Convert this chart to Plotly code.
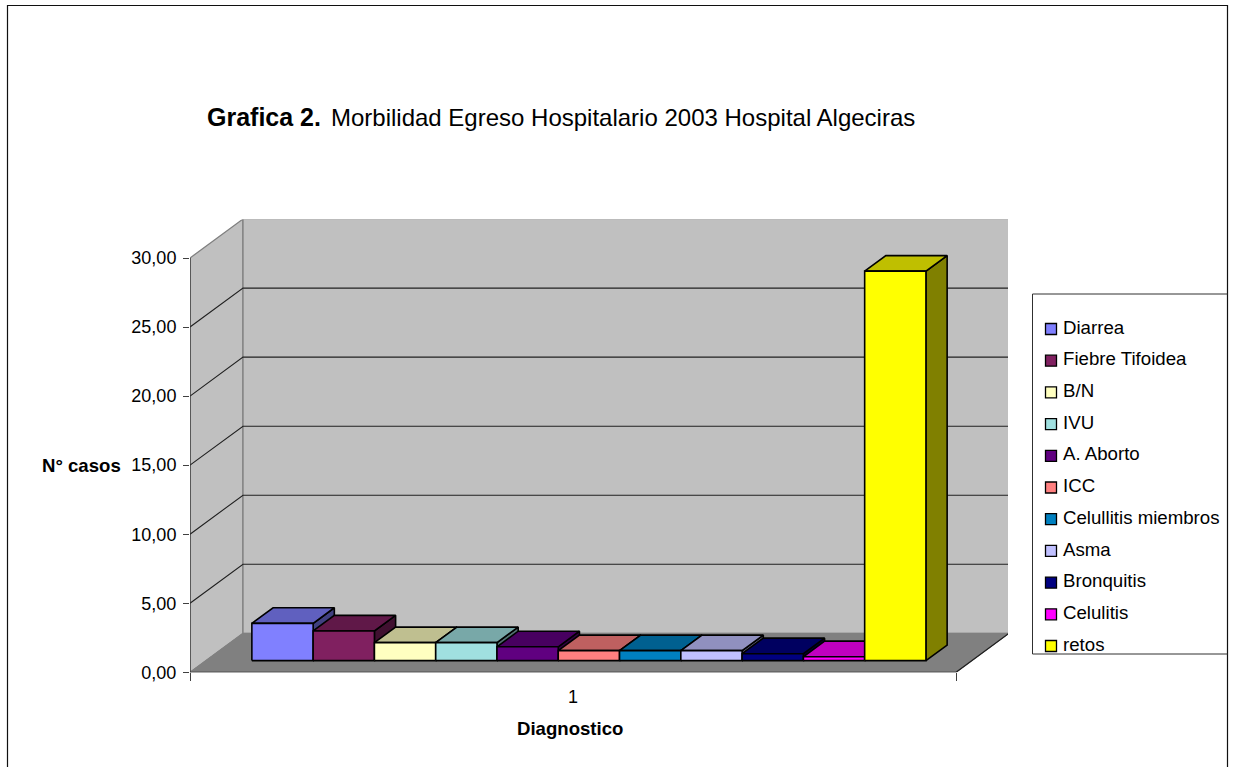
import plotly.graph_objects as go

# Hospital discharge morbidity, 2003
diagnoses = ["Diarrea", "Fiebre Tifoidea", "B/N", "IVU", "A. Aborto", "ICC",
             "Celullitis miembros", "Asma", "Bronquitis", "Celulitis", "retos"]
cases = [2.7, 2.15, 1.3, 1.3, 1.0, 0.72, 0.72, 0.72, 0.5, 0.28, 28.2]
front_colors = ["#8080FF", "#802060", "#FFFFC0", "#A0E0E0", "#600080", "#FF8080",
                "#0080C0", "#C0C0FF", "#000080", "#FF00FF", "#FFFF00"]
value_ticks = [0, 5, 10, 15, 20, 25, 30]

W, H = 1233, 767
FONT = "Liberation Sans, Arial, sans-serif"

# Oblique projection of the 3D box: depth 0 is the front plane, 1 the back wall
DEPTH_X = 53 / 766
DEPTH_Y = 2.82
X_START, X_END = 0.5, 1.5
BAR_WIDTH = 0.08
BAR_START = 0.56
BAR_DEPTH_FRONT, BAR_DEPTH_BACK = 0.30, 0.70


def project(x, v, d=0.0):
    return x + d * DEPTH_X, v + d * DEPTH_Y


def shade(color, f):
    r, g, b = (int(color[i:i + 2], 16) for i in (1, 3, 5))
    return f"rgb({r * f:.0f},{g * f:.0f},{b * f:.0f})"


def poly(points, fill=None, line="black", width=1.0, close=True):
    xs = [p[0] for p in points]
    ys = [p[1] for p in points]
    if close:
        xs.append(xs[0])
        ys.append(ys[0])
    return go.Scatter(x=xs, y=ys, mode="lines", hoverinfo="skip", showlegend=False,
                      cliponaxis=False,
                      fill="toself" if fill else None, fillcolor=fill,
                      line=dict(color=line, width=width))


fig = go.Figure()
top = value_ticks[-1]

# Side wall and back wall
fig.add_trace(poly([project(X_START, 0), project(X_START, top),
                    project(X_START, top, 1), project(X_START, 0, 1)],
                   fill="#C0C0C0", line="#808080", width=1.3))
fig.add_trace(poly([project(X_START, 0, 1), project(X_START, top, 1),
                    project(X_END, top, 1), project(X_END, 0, 1)],
                   fill="#C0C0C0", line="#808080", width=1.3))

# Gridlines wrap around both walls
for v in value_ticks[1:-1]:
    fig.add_trace(poly([project(X_START, v), project(X_START, v, 1), project(X_END, v, 1)],
                       line="#202020", width=1.1, close=False))

# Floor
fig.add_trace(poly([project(X_START, 0), project(X_END, 0),
                    project(X_END, 0, 1), project(X_START, 0, 1)],
                   fill="#808080", line="#808080", width=1.0))
fig.add_trace(poly([project(X_START, 0), project(X_END, 0), project(X_END, 0, 1)],
                   line="#202020", width=1.2, close=False))
fig.add_trace(poly([project(X_START, 0), project(X_START, top)],
                   line="#303030", width=1.2, close=False))

# Bars run left to right so that nearer boxes cover the ones behind them
df, db = BAR_DEPTH_FRONT, BAR_DEPTH_BACK
for i, (value, color) in enumerate(zip(cases, front_colors)):
    x0 = BAR_START + i * BAR_WIDTH
    x1 = x0 + BAR_WIDTH
    fig.add_trace(poly([project(x1, 0, df), project(x1, 0, db),
                        project(x1, value, db), project(x1, value, df)],
                       fill=shade(color, 0.5), width=1.6))
    fig.add_trace(poly([project(x0, value, df), project(x1, value, df),
                        project(x1, value, db), project(x0, value, db)],
                       fill=shade(color, 0.75), width=1.6))
    fig.add_trace(poly([project(x0, 0, df), project(x1, 0, df),
                        project(x1, value, df), project(x0, value, df)],
                       fill=color, width=1.6))

# Key: one swatch per diagnosis on its own small axes, with the names beside them
rows = list(range(len(diagnoses)))
for row, name, color in zip(rows, diagnoses, front_colors):
    fig.add_trace(go.Scatter(
        x=[0], y=[row], xaxis="x2", yaxis="y2", mode="markers", name=name,
        hoverinfo="skip", showlegend=False, cliponaxis=False,
        marker=dict(symbol="square", size=11, color=color, line=dict(color="black", width=1.3)),
    ))
fig.add_trace(go.Scatter(
    x=[12] * len(diagnoses), y=rows, xaxis="x2", yaxis="y2", mode="text",
    text=diagnoses, textposition="middle right", hoverinfo="skip", showlegend=False,
    cliponaxis=False, textfont=dict(family=FONT, size=18.67, color="black"),
))


def frac_x(px):
    return px / W


def frac_y(px):
    return 1 - px / H


Y_SCALE = 13.81
plot_left, plot_right, plot_top, plot_bottom = 190, 1008, 219.5, 672.3

fig.update_layout(
    width=W, height=H, autosize=False, margin=dict(l=0, r=0, t=0, b=0, pad=0, autoexpand=False),
    paper_bgcolor="white", plot_bgcolor="rgba(0,0,0,0)",
    separators=",.", showlegend=False,
    font=dict(family=FONT, size=18, color="black"),
    title=dict(text="<b><span style=\"font-size:25px\">Grafica 2.</span></b> "
                    "<span style=\"font-size:12px\"> </span>"
                    "Morbilidad Egreso Hospitalario 2003 Hospital Algeciras",
               x=frac_x(207), xanchor="left", y=frac_y(118), yanchor="middle",
               font=dict(family=FONT, size=24, color="black")),
    xaxis=dict(domain=[frac_x(plot_left), frac_x(plot_right)],
               range=[X_START, X_START + (plot_right - plot_left) / 766],
               tickmode="array", tickvals=[1], ticktext=["1"], ticks="", showgrid=False,
               zeroline=False, showline=False, fixedrange=True, automargin=False,
               ticklabelstandoff=12, tickfont=dict(family=FONT, size=18),
               minor=dict(tickmode="array", tickvals=[X_START, X_END], ticks="outside",
                          ticklen=8, tickcolor="#404040", tickwidth=1, showgrid=False)),
    yaxis=dict(domain=[frac_y(plot_bottom), frac_y(plot_top)],
               range=[0, (plot_bottom - plot_top) / Y_SCALE],
               tickmode="array", tickvals=value_ticks, tickformat=".2f", ticks="outside",
               ticklen=6, tickcolor="#404040", tickwidth=1, ticklabelstandoff=3,
               showgrid=False, zeroline=False, showline=False, fixedrange=True, automargin=False,
               tickfont=dict(family=FONT, size=18)),
    xaxis2=dict(domain=[frac_x(1051), frac_x(1227)], range=[0, 176], anchor="y2",
                visible=False, fixedrange=True),
    yaxis2=dict(domain=[frac_y(646), frac_y(329)], range=[10, 0], anchor="x2",
                visible=False, fixedrange=True),
    annotations=[
        dict(text="<b>N° casos</b>", x=frac_x(81), y=frac_y(465), xref="paper", yref="paper",
             xanchor="center", yanchor="middle", showarrow=False,
             font=dict(family=FONT, size=18.6)),
        dict(text="<b>Diagnostico</b>", x=frac_x(570), y=frac_y(728), xref="paper", yref="paper",
             xanchor="center", yanchor="middle", showarrow=False,
             font=dict(family=FONT, size=18.6)),
    ],
    shapes=[
        # Chart frame, open along the lower edge
        dict(type="path", xref="paper", yref="paper",
             path=f"M {frac_x(7.5)} {frac_y(767)} L {frac_x(7.5)} {frac_y(5.5)} "
                  f"L {frac_x(1227.5)} {frac_y(5.5)} L {frac_x(1227.5)} {frac_y(767)}",
             line=dict(color="#101010", width=1.2)),
        # Key frame
        dict(type="path", xref="paper", yref="paper",
             path=f"M {frac_x(1227.5)} {frac_y(294)} L {frac_x(1032.5)} {frac_y(294)} "
                  f"L {frac_x(1032.5)} {frac_y(654)} L {frac_x(1227.5)} {frac_y(654)}",
             line=dict(color="#303030", width=1)),
    ],
)

fig.write_html("out.html")
